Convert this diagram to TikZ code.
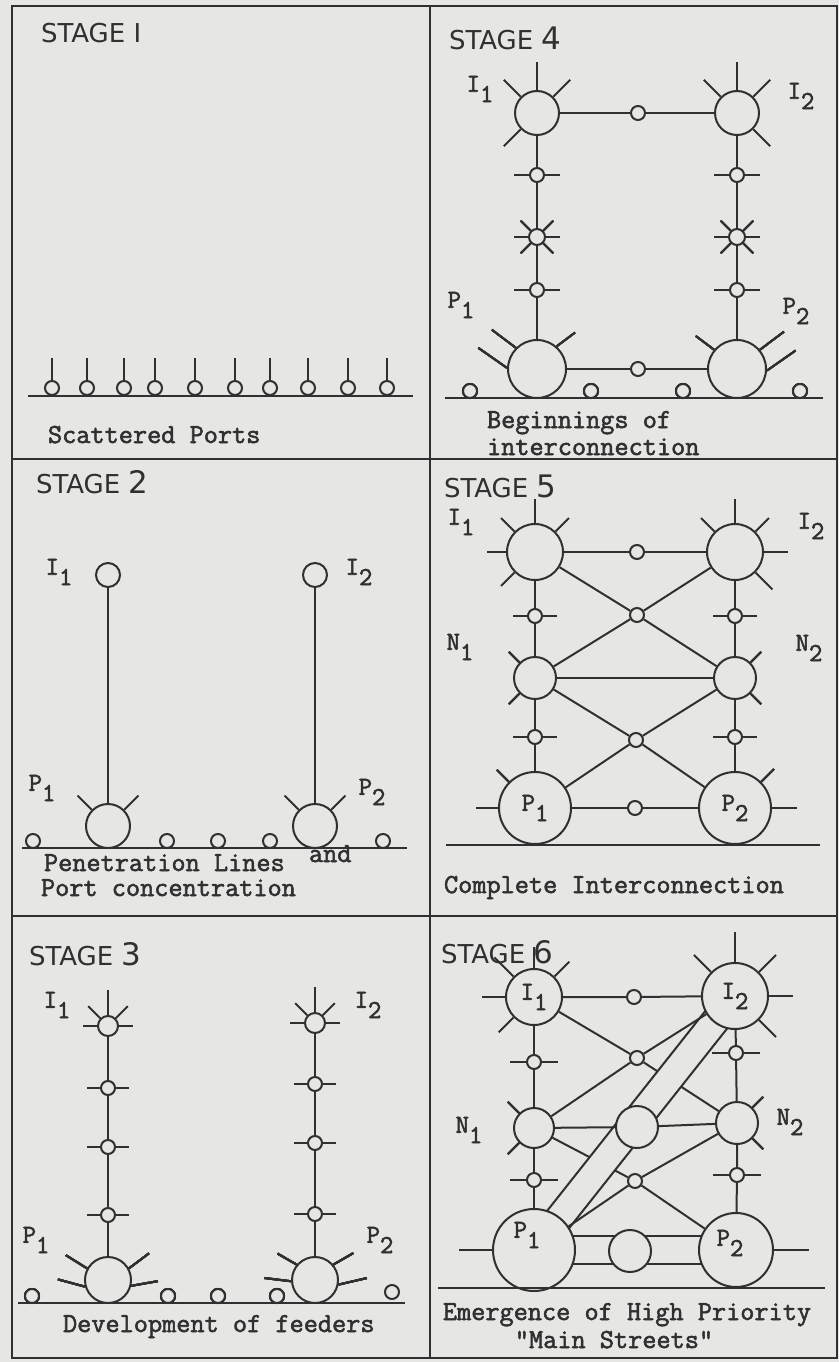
\documentclass[tikz,border=0pt]{standalone}
\usepackage{fontspec}
\newfontfamily\stagefont{DejaVu Sans}
\newfontfamily\captfont{Latin Modern Mono}[RawFeature={embolden=2}]
\usetikzlibrary{calc,backgrounds}
\definecolor{paper}{RGB}{230,230,228}
\definecolor{ink}{RGB}{48,48,48}
\newcommand{\lblfont}{\captfont\fontsize{26}{26}\selectfont}
\newcommand{\subl}[2]{#1\raisebox{-0.4em}{#2}}
\newcommand{\spokes}[3]{\foreach \a in {#2}{\draw (#1.\a) -- ++(\a:#3);}}
\newcommand{\feeder}[4]{\draw (#1.#2) -- ++(#3:#4);}
\newcommand{\stagenum}[1]{{\fontsize{31}{31}\selectfont #1}}

\begin{document}
\begin{tikzpicture}[
    x=1pt, y=-1pt,
    color=ink,
    line width=2pt,
    hub/.style={
        circle,
        draw,
        fill=paper,
        inner sep=0pt,
        minimum size=#1,
        font=\lblfont
    },
    port/.style={hub=14pt},
    street/.style={line width=2pt, draw=ink},
    stagelbl/.style={
        font=\stagefont\fontsize{26}{26}\selectfont,
        anchor=base west,
        inner sep=0pt
    },
    capt/.style={
        font=\captfont\fontsize{27.5}{27.5}\selectfont,
        anchor=base west,
        inner sep=0pt
    },
    lbl/.style={font=\lblfont, inner sep=0pt}
]

% frame
\draw[line width=2.6pt] (12,6) rectangle (837,1358);
\draw[line width=2.6pt] (430,6) -- (430,1358);
\draw[line width=2.6pt] (12,459) -- (837,459);
\draw[line width=2.6pt] (12,916) -- (837,916);

% ---------------- stage 1
\node[stagelbl] (s1title) at (40,43) {STAGE I};
\foreach \px [count=\k] in {52,87,124,155,195,235,270,308,348,387}{
    \node[port] (s1p\k) at (\px,388) {};
    \draw (s1p\k.90) -- ++(90:22pt);
}
\coordinate (s1gl) at (28,396);
\coordinate (s1gr) at (413,396);
\draw (s1gl) -- (s1gr);
\node[capt] (s1cap) at (47,443) {Scattered Ports};

% ---------------- stage 2
\node[stagelbl] (s2title) at (35,493) {STAGE \stagenum{2}};
\node[hub=24pt] (s2I1) at (108,575) {};
\node[hub=24pt] (s2I2) at (315,575) {};
\node[hub=44pt] (s2P1) at (108,826) {};
\node[hub=44pt] (s2P2) at (315,826) {};
\draw (s2I1) -- (s2P1);
\draw (s2I2) -- (s2P2);
\spokes{s2P1}{45,135}{20pt}
\spokes{s2P2}{45,135}{20pt}
\foreach \px [count=\k] in {33,167,218,270,383}
    \node[port] (s2g\k) at (\px,841) {};
\coordinate (s2gl) at (22,848);
\coordinate (s2gr) at (407,848);
\draw (s2gl) -- (s2gr);
\node[lbl] (s2I1lbl) at (59,572) {\subl{I}{1}};
\node[lbl] (s2I2lbl) at (359,572) {\subl{I}{2}};
\node[lbl] (s2P1lbl) at (42,788) {\subl{P}{1}};
\node[lbl] (s2P2lbl) at (372,792) {\subl{P}{2}};
\node[capt] (s2capA) at (43,871) {Penetration Lines};
\node[capt] (s2and) at (308,862) {and};
\node[capt] (s2capB) at (40,896) {Port concentration};

% ---------------- stage 3
\node[stagelbl] (s3title) at (28,965) {STAGE \stagenum{3}};
\node[hub=20pt] (s3I1) at (108,1026) {};
\node[hub=20pt] (s3I2) at (315,1023) {};
\node[port] (s3a1) at (108,1088) {};
\node[port] (s3a2) at (108,1147) {};
\node[port] (s3a3) at (108,1215) {};
\node[port] (s3b1) at (315,1084) {};
\node[port] (s3b2) at (315,1143) {};
\node[port] (s3b3) at (315,1214) {};
\node[hub=46pt] (s3P1) at (108,1280) {};
\node[hub=46pt] (s3P2) at (315,1280) {};
\draw (s3I1) -- (s3a1) -- (s3a2) -- (s3a3) -- (s3P1);
\draw (s3I2) -- (s3b1) -- (s3b2) -- (s3b3) -- (s3P2);
\spokes{s3I1}{45,135}{17pt}
\spokes{s3I1}{0,180}{14pt}
\spokes{s3I1}{90}{25pt}
\spokes{s3I2}{45,135}{17pt}
\spokes{s3I2}{0,180}{14pt}
\spokes{s3I2}{90}{25pt}
\foreach \n in {s3a1,s3a2,s3a3,s3b1,s3b2,s3b3}
    \spokes{\n}{0,180}{13pt}
\feeder{s3P1}{151}{148}{25pt}
\feeder{s3P1}{196}{165}{28pt}
\feeder{s3P1}{29}{37}{25pt}
\feeder{s3P1}{346}{10}{27pt}
\feeder{s3P2}{140}{150}{22pt}
\feeder{s3P2}{183}{173}{27pt}
\feeder{s3P2}{40}{30}{23pt}
\feeder{s3P2}{349}{13}{29pt}
\foreach \px [count=\k] in {32,168,218,277}
    \node[port] (s3g\k) at (\px,1296) {};
\node[port] (s3g5) at (392,1292) {};
\coordinate (s3gl) at (18,1303);
\coordinate (s3gr) at (405,1303);
\draw (s3gl) -- (s3gr);
\node[lbl] (s3I1lbl) at (57,1005) {\subl{I}{1}};
\node[lbl] (s3I2lbl) at (368,1005) {\subl{I}{2}};
\node[lbl] (s3P1lbl) at (36,1240) {\subl{P}{1}};
\node[lbl] (s3P2lbl) at (380,1240) {\subl{P}{2}};
\node[capt] (s3cap) at (62,1332) {Development of feeders};

% ---------------- stage 4
\node[stagelbl] (s4title) at (448,50) {STAGE \stagenum{4}};
\node[hub=44pt] (s4I1) at (537,113) {};
\node[hub=44pt] (s4I2) at (737,113) {};
\node[port] (s4m1) at (638,113) {};
\node[port] (s4a1) at (537,175) {};
\node[hub=16pt] (s4a2) at (537,237) {};
\node[port] (s4a3) at (537,290) {};
\node[port] (s4b1) at (737,175) {};
\node[hub=16pt] (s4b2) at (737,237) {};
\node[port] (s4b3) at (737,290) {};
\node[hub=58pt] (s4P1) at (537,369) {};
\node[hub=58pt] (s4P2) at (737,369) {};
\node[port] (s4m2) at (638,369) {};
\draw (s4I1) -- (s4m1) -- (s4I2);
\draw (s4P1) -- (s4m2) -- (s4P2);
\draw (s4I1) -- (s4a1) -- (s4a2) -- (s4a3) -- (s4P1);
\draw (s4I2) -- (s4b1) -- (s4b2) -- (s4b3) -- (s4P2);
\spokes{s4I1}{45,135,225}{24pt}
\spokes{s4I1}{90}{28pt}
\spokes{s4I2}{45,135,315}{24pt}
\spokes{s4I2}{90}{28pt}
\foreach \n in {s4a1,s4a3,s4b1,s4b3}
    \spokes{\n}{0,180}{15pt}
\spokes{s4a2}{0,45,135,180,225,315}{14pt}
\spokes{s4b2}{0,45,135,180,225,315}{14pt}
\feeder{s4P1}{49}{37}{23pt}
\feeder{s4P1}{135}{143}{30pt}
\feeder{s4P1}{178}{145}{35pt}
\feeder{s4P2}{140}{143}{23pt}
\feeder{s4P2}{40}{37}{30pt}
\feeder{s4P2}{357}{35}{35pt}
\foreach \px [count=\k] in {470,591,683,800}
    \node[port] (s4g\k) at (\px,391) {};
\coordinate (s4gl) at (445,398);
\coordinate (s4gr) at (823,398);
\draw (s4gl) -- (s4gr);
\node[lbl] (s4I1lbl) at (480,89) {\subl{I}{1}};
\node[lbl] (s4I2lbl) at (801,96) {\subl{I}{2}};
\node[lbl] (s4P1lbl) at (461,305) {\subl{P}{1}};
\node[lbl] (s4P2lbl) at (796,311) {\subl{P}{2}};
\node[capt] (s4capA) at (486,428) {Beginnings of};
\node[capt] (s4capB) at (486,455) {interconnection};

% ---------------- stage 5
\node[stagelbl] (s5title) at (443,497) {STAGE \stagenum{5}};
\node[hub=56pt] (s5I1) at (535,552) {};
\node[hub=56pt] (s5I2) at (735,552) {};
\node[port] (s5m1) at (637,552) {};
\node[port] (s5upX) at (637,615) {};
\node[port] (s5L1) at (535,616) {};
\node[port] (s5R1) at (735,616) {};
\node[hub=42pt] (s5N1) at (535,678) {};
\node[hub=42pt] (s5N2) at (735,678) {};
\node[port] (s5L2) at (535,737) {};
\node[port] (s5R2) at (735,737) {};
\node[port] (s5lowX) at (636,740) {};
\node[hub=72pt] (s5P1) at (535,808) {\subl{P}{1}};
\node[hub=72pt] (s5P2) at (735,808) {\subl{P}{2}};
\node[port] (s5m2) at (635,808) {};
\draw (s5I1) -- (s5m1) -- (s5I2);
\draw (s5P1) -- (s5m2) -- (s5P2);
\draw (s5N1) -- (s5N2);
\draw (s5I1) -- (s5L1) -- (s5N1) -- (s5L2) -- (s5P1);
\draw (s5I2) -- (s5R1) -- (s5N2) -- (s5R2) -- (s5P2);
\draw (s5I1) -- (s5upX) -- (s5N2);
\draw (s5I2) -- (s5upX) -- (s5N1);
\draw (s5N1) -- (s5lowX) -- (s5P2);
\draw (s5N2) -- (s5lowX) -- (s5P1);
\spokes{s5I1}{45,135,180,225}{19pt}
\spokes{s5I1}{90}{24pt}
\spokes{s5I2}{45,135}{19pt}
\spokes{s5I2}{0,315,90}{24pt}
\foreach \n in {s5L1,s5R1,s5L2,s5R2}
    \spokes{\n}{0,180}{14pt}
\spokes{s5N1}{135,225}{15pt}
\spokes{s5N2}{45,315}{15pt}
\spokes{s5P1}{135}{17pt}
\spokes{s5P1}{180}{22pt}
\spokes{s5P2}{45}{18pt}
\spokes{s5P2}{0}{25pt}
\coordinate (s5gl) at (446,845);
\coordinate (s5gr) at (820,845);
\draw (s5gl) -- (s5gr);
\node[lbl] (s5I1lbl) at (461,522) {\subl{I}{1}};
\node[lbl] (s5I2lbl) at (811,526) {\subl{I}{2}};
\node[lbl] (s5N1lbl) at (460,647) {\subl{N}{1}};
\node[lbl] (s5N2lbl) at (809,648) {\subl{N}{2}};
\node[capt] (s5cap) at (443,893) {Complete Interconnection};

% ---------------- stage 6
\node[stagelbl] (s6title) at (440,963) {STAGE \stagenum{6}};
\node[hub=56pt] (s6I1) at (534,997) {\subl{I}{1}};
\node[hub=66pt] (s6I2) at (735,996) {\subl{I}{2}};
\node[port] (s6m1) at (634,997) {};
\node[port] (s6L1) at (534,1062) {};
\node[port] (s6R1) at (736,1053) {};
\node[port] (s6upX) at (637,1058) {};
\node[hub=40pt] (s6N1) at (534,1128) {};
\node[hub=42pt] (s6N2) at (737,1123) {};
\node[hub=42pt] (s6M) at (637,1127) {};
\node[port] (s6L2) at (534,1180) {};
\node[port] (s6R2) at (737,1175) {};
\node[port] (s6lowX) at (635,1181) {};
\node[hub=82pt] (s6P1) at (534,1250) {};
\node[hub=74pt] (s6P2) at (736,1250) {};
\node[hub=42pt] (s6B) at (630,1251) {};
\draw (s6I1) -- (s6m1) -- (s6I2);
\draw (s6I1) -- (s6L1) -- (s6N1) -- (s6L2) -- (s6P1);
\draw (s6I2) -- (s6R1) -- (s6N2) -- (s6R2) -- (s6P2);
\draw (s6I2) -- (s6upX) -- (s6N1);
\draw (s6N2) -- (s6lowX) -- (s6P1);
\draw (s6N1) -- (s6M) -- (s6N2);
\spokes{s6I1}{45,225,90}{21pt}
\spokes{s6I1}{180}{23pt}
\spokes{s6I1}{135}{27pt}
\spokes{s6I2}{0,45,135,315}{24pt}
\spokes{s6I2}{90}{30pt}
\foreach \n in {s6L1,s6R1,s6L2,s6R2}
    \spokes{\n}{0,180}{16pt}
\spokes{s6N1}{135,225}{16pt}
\spokes{s6N2}{45,315}{15pt}
\spokes{s6P1}{180}{33pt}
\spokes{s6P2}{0}{35pt}
\coordinate (s6gl) at (438,1288);
\coordinate (s6gr) at (825,1288);
\draw (s6gl) -- (s6gr);
\node[lbl] (s6P1lbl) at (527,1235) {\subl{P}{1}};
\node[lbl] (s6P2lbl) at (730,1243) {\subl{P}{2}};
\node[lbl] (s6N1lbl) at (469,1130) {\subl{N}{1}};
\node[lbl] (s6N2lbl) at (790,1122) {\subl{N}{2}};
\node[capt, anchor=base] (s6capA) at (627,1320) {Emergence of High Priority};
\node[capt, anchor=base] (s6capB) at (614,1348) {"Main Streets"};

% paper, lines running under the main street
\begin{scope}[on background layer]
    \fill[paper] (0,0) rectangle (839,1362);
    \draw[street] (s6I1) -- (s6upX) -- (s6N2);
    \draw[street] (s6N1) -- (s6lowX) -- (s6P2);
    \coordinate (s6stA1) at ($(s6I2)!14pt!90:(s6P1)$);
    \coordinate (s6stA2) at ($(s6P1)!14pt!-90:(s6I2)$);
    \coordinate (s6stB1) at ($(s6I2)!14pt!-90:(s6P1)$);
    \coordinate (s6stB2) at ($(s6P1)!14pt!90:(s6I2)$);
    \fill[paper] (s6stA1) -- (s6stA2) -- (s6stB2) -- (s6stB1) -- cycle;
    \draw[street] (s6stA1) -- (s6stA2);
    \draw[street] (s6stB1) -- (s6stB2);
    \draw[street] ([yshift=14pt]s6P1.center) -- ([yshift=14pt]s6P2.center);
    \draw[street] ([yshift=-14pt]s6P1.center) -- ([yshift=-14pt]s6P2.center);
\end{scope}

\end{tikzpicture}
\end{document}
